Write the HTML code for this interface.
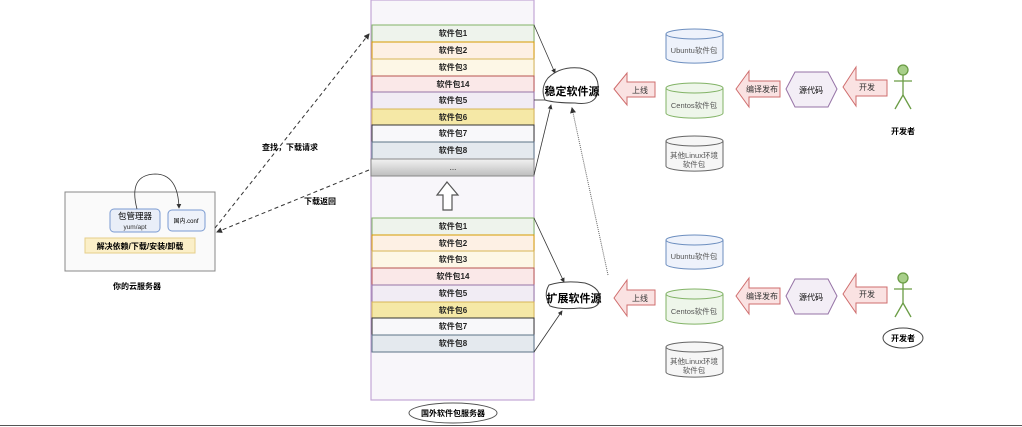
<!DOCTYPE html>
<html><head><meta charset="utf-8"><style>
html,body{margin:0;padding:0;background:#fff;}
svg{display:block;}
text{font-family:"Liberation Sans","Noto Sans CJK SC",sans-serif;}
</style></head><body>
<svg width="1022" height="427" viewBox="0 0 1022 427" xmlns="http://www.w3.org/2000/svg">
<defs>
<linearGradient id="g" x1="0" y1="0" x2="0" y2="1"><stop offset="0" stop-color="#f2f2f2"/><stop offset="1" stop-color="#bdbdbd"/></linearGradient>
<marker id="ah" markerWidth="6" markerHeight="6" refX="5" refY="3" orient="auto"><path d="M0,0L6,3L0,6z" fill="#333"/></marker>
</defs>
<!-- big column -->
<rect x="371" y="0" width="163" height="400" fill="#f8f6fa" stroke="#c3a6d6" stroke-width="1.2"/>
<g font-size="8" font-weight="bold" text-anchor="middle" fill="#222">
<rect x="372" y="25" width="162" height="17" fill="#eef3ec" stroke="#82b366"/><text x="453" y="36">软件包1</text>
<rect x="372" y="42" width="162" height="17" fill="#fdf0e4" stroke="#d79b00"/><text x="453" y="53">软件包2</text>
<rect x="372" y="59" width="162" height="17" fill="#fdf7e6" stroke="#d6b656"/><text x="453" y="70">软件包3</text>
<rect x="372" y="76" width="162" height="16" fill="#fae8e8" stroke="#b85450"/><text x="453" y="87">软件包14</text>
<rect x="372" y="92" width="162" height="17" fill="#f1ecf4" stroke="#9673a6"/><text x="453" y="103">软件包5</text>
<rect x="372" y="109" width="162" height="16" fill="#f5e8a6" stroke="#d6b656"/><text x="453" y="120">软件包6</text>
<rect x="372" y="125" width="162" height="17" fill="#f8f8fa" stroke="#333"/><text x="453" y="136">软件包7</text>
<rect x="372" y="142" width="162" height="17" fill="#e4e9ee" stroke="#5b7387"/><text x="453" y="153">软件包8</text>
<rect x="371" y="159" width="163" height="17" fill="url(#g)" stroke="#888"/><text x="453" y="170" font-weight="normal">...</text>
<rect x="372" y="218" width="162" height="17" fill="#eef3ec" stroke="#82b366"/><text x="453" y="229">软件包1</text>
<rect x="372" y="235" width="162" height="16" fill="#fdf0e4" stroke="#d79b00"/><text x="453" y="246">软件包2</text>
<rect x="372" y="251" width="162" height="17" fill="#fdf7e6" stroke="#d6b656"/><text x="453" y="262">软件包3</text>
<rect x="372" y="268" width="162" height="17" fill="#fae8e8" stroke="#b85450"/><text x="453" y="279">软件包14</text>
<rect x="372" y="285" width="162" height="17" fill="#f1ecf4" stroke="#9673a6"/><text x="453" y="296">软件包5</text>
<rect x="372" y="302" width="162" height="16" fill="#f5e8a6" stroke="#d6b656"/><text x="453" y="313">软件包6</text>
<rect x="372" y="318" width="162" height="17" fill="#f8f8fa" stroke="#333"/><text x="453" y="329">软件包7</text>
<rect x="372" y="335" width="162" height="17" fill="#e4e9ee" stroke="#5b7387"/><text x="453" y="346">软件包8</text>
</g>
<!-- up arrow -->
<path d="M447,182 L458,195 L452,195 L452,210 L443,210 L443,195 L437,195 Z" fill="#fff" stroke="#555" stroke-width="1.2"/>
<!-- connectors to sources -->
<g stroke="#333" fill="none" stroke-width="0.8" marker-end="url(#ah)">
<line x1="534" y1="25" x2="555" y2="73"/><line x1="534" y1="175" x2="551" y2="105"/>
<line x1="534" y1="218" x2="564" y2="282"/><line x1="534" y1="352" x2="562" y2="311"/>
</g>
<line x1="534" y1="100" x2="545" y2="100" stroke="#333" stroke-width="0.8"/>
<line x1="608" y1="275" x2="572" y2="108" stroke="#666" stroke-width="1" stroke-dasharray="1,1" marker-end="url(#ah)"/>
<!-- clouds -->
<path d="M548,78 Q560,66 580,68 Q600,72 598,90 Q597,106 575,103 Q555,103 545,100 Q540,88 548,78Z" fill="#fff" stroke="#444"/>
<text x="572" y="95" font-size="11" font-weight="bold" text-anchor="middle">稳定软件源</text>
<path d="M549,285 Q565,280 585,283 Q601,288 600,300 Q598,310 580,308 Q560,310 550,306 Q543,295 549,285Z" fill="#fff" stroke="#444"/>
<text x="574" y="302" font-size="11" font-weight="bold" text-anchor="middle">扩展软件源</text>
<!-- left arrows generic -->
<g fill="#fae2e2" stroke="#cf6d6d" stroke-width="1">
<path d="M614,89 L627,73 L627,82 L655,82 L655,97 L627,97 L627,105 Z"/>
<path d="M614,298 L627,280 L627,290 L655,290 L655,305 L627,305 L627,316 Z"/>
<path d="M736,89 L749,71 L749,81 L780,81 L780,97 L749,97 L749,107 Z"/>
<path d="M736,296 L749,278 L749,288 L780,288 L780,304 L749,304 L749,314 Z"/>
<path d="M843,87 L856,67 L856,80 L887,80 L887,96 L856,96 L856,106 Z"/>
<path d="M843,294 L856,274 L856,287 L887,287 L887,303 L856,303 L856,313 Z"/>
</g>
<g font-size="8" fill="#333" text-anchor="middle">
<text x="640" y="93">上线</text><text x="640" y="301">上线</text>
<text x="762" y="92">编译发布</text><text x="762" y="299">编译发布</text>
<text x="867" y="90">开发</text><text x="867" y="297">开发</text>
</g>
<!-- hexagons -->
<g fill="#f3eef6" stroke="#9673a6">
<path d="M795,72 L828,72 L837,89 L828,107 L795,107 L786,89 Z"/>
<path d="M795,279 L828,279 L837,296 L828,314 L795,314 L786,296 Z"/>
</g>
<text x="811" y="93" font-size="8" text-anchor="middle">源代码</text>
<text x="811" y="300" font-size="8" text-anchor="middle">源代码</text>
<!-- cylinders -->
<g stroke-width="1">
<g fill="#eef2fb" stroke="#6c8ebf"><path d="M666,34 v24 a28,5 0 0 0 57,0 v-24"/><ellipse cx="694.5" cy="34" rx="28.5" ry="5"/></g>
<g fill="#eef6ea" stroke="#82b366"><path d="M666,88 v25 a28,5 0 0 0 57,0 v-25"/><ellipse cx="694.5" cy="88" rx="28.5" ry="5"/></g>
<g fill="#f6f6f6" stroke="#666"><path d="M666,141 v25 a28,5 0 0 0 57,0 v-25"/><ellipse cx="694.5" cy="141" rx="28.5" ry="5"/></g>
<g fill="#eef2fb" stroke="#6c8ebf"><path d="M666,240 v24 a28,5 0 0 0 57,0 v-24"/><ellipse cx="694.5" cy="240" rx="28.5" ry="5"/></g>
<g fill="#eef6ea" stroke="#82b366"><path d="M666,294 v25 a28,5 0 0 0 57,0 v-25"/><ellipse cx="694.5" cy="294" rx="28.5" ry="5"/></g>
<g fill="#f6f6f6" stroke="#666"><path d="M666,347 v25 a28,5 0 0 0 57,0 v-25"/><ellipse cx="694.5" cy="347" rx="28.5" ry="5"/></g>
</g>
<g font-size="7.5" fill="#555" text-anchor="middle">
<text x="694" y="53">Ubuntu软件包</text><text x="694" y="108">Centos软件包</text>
<text x="694" y="158">其他Linux环境</text><text x="694" y="167">软件包</text>
<text x="694" y="259">Ubuntu软件包</text><text x="694" y="314">Centos软件包</text>
<text x="694" y="364">其他Linux环境</text><text x="694" y="373">软件包</text>
</g>
<!-- stick figures -->
<g stroke="#6a9c45" stroke-width="1.3" fill="none">
<circle cx="903" cy="70" r="5" fill="#a8cf8a"/><line x1="903" y1="75" x2="903" y2="95"/><line x1="894" y1="81" x2="912" y2="81"/><line x1="903" y1="95" x2="895" y2="109"/><line x1="903" y1="95" x2="911" y2="109"/>
<circle cx="903" cy="278" r="5" fill="#a8cf8a"/><line x1="903" y1="283" x2="903" y2="303"/><line x1="894" y1="289" x2="912" y2="289"/><line x1="903" y1="303" x2="895" y2="317"/><line x1="903" y1="303" x2="911" y2="317"/>
</g>
<text x="903" y="134" font-size="8" font-weight="bold" text-anchor="middle">开发者</text>
<ellipse cx="903" cy="338" rx="20" ry="10" fill="none" stroke="#444"/>
<text x="903" y="341" font-size="8" font-weight="bold" text-anchor="middle">开发者</text>
<!-- cloud server -->
<rect x="65" y="192" width="150" height="79" fill="#fafafa" stroke="#888"/>
<rect x="110" y="209" width="50" height="23" rx="4" fill="#e9eef8" stroke="#7b9bd1"/>
<text x="135" y="219" font-size="8.5" text-anchor="middle">包管理器</text>
<text x="135" y="229" font-size="6.5" text-anchor="middle" fill="#333">yum/apt</text>
<rect x="168" y="210" width="37" height="21" rx="4" fill="#eef2fa" stroke="#7b9bd1"/>
<text x="186" y="223" font-size="6" text-anchor="middle">国内.conf</text>
<rect x="85" y="238" width="110" height="15" fill="#fbefc8" stroke="#e6cf8a"/>
<text x="140" y="249" font-size="8" font-weight="bold" text-anchor="middle">解决依赖/下载/安装/卸载</text>
<path d="M137,209 Q128,175 155,174 Q178,174 179,208" fill="none" stroke="#333" stroke-width="0.8" marker-end="url(#ah)"/>
<text x="137" y="289" font-size="8" font-weight="bold" text-anchor="middle">你的云服务器</text>
<!-- dashed -->
<g stroke="#333" stroke-width="1" stroke-dasharray="4,3" fill="none">
<line x1="215" y1="228" x2="369" y2="34" marker-end="url(#ah)"/>
<line x1="369" y1="170" x2="217" y2="232" marker-end="url(#ah)"/>
</g>
<text x="290" y="150" font-size="8" font-weight="bold" text-anchor="middle">查找，下载请求</text>
<text x="320" y="204" font-size="8" font-weight="bold" text-anchor="middle">下载返回</text>
<ellipse cx="453" cy="413" rx="44" ry="10" fill="#fff" stroke="#555"/>
<text x="453" y="416" font-size="8" font-weight="bold" text-anchor="middle">国外软件包服务器</text>
<line x1="0" y1="425.5" x2="1022" y2="425.5" stroke="#555" stroke-width="1"/>
</svg>
</body></html>
